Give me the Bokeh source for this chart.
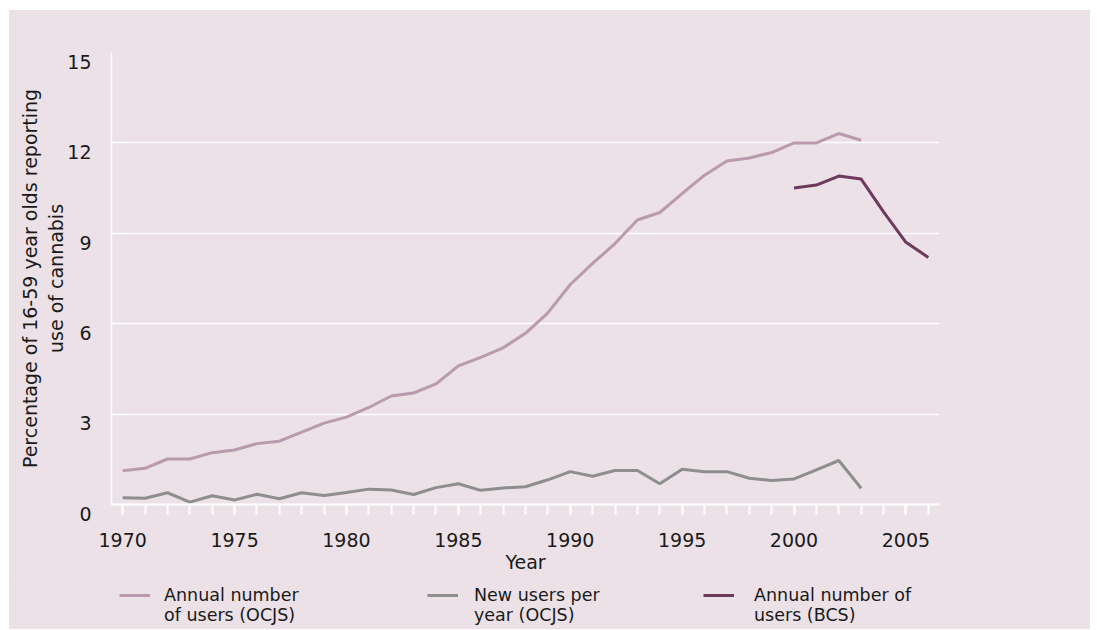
from bokeh.plotting import figure
from bokeh.layouts import column
from bokeh.models import (FixedTicker, Legend, LegendItem, Range1d)
from bokeh.embed import file_html
from bokeh.resources import INLINE

# ---- data ----
years_ocjs = list(range(1970, 2004))
annual_ocjs = [1.12, 1.2, 1.51, 1.51, 1.72, 1.81, 2.02, 2.1, 2.4, 2.7,
               2.9, 3.22, 3.6, 3.7, 4.0, 4.6, 4.88, 5.2, 5.68, 6.36,
               7.3, 8.0, 8.66, 9.44, 9.69, 10.32, 10.93, 11.4, 11.5, 11.68,
               12.0, 12.0, 12.31, 12.09]
new_ocjs = [0.22, 0.21, 0.39, 0.08, 0.29, 0.15, 0.34, 0.19, 0.39, 0.3,
            0.4, 0.51, 0.48, 0.33, 0.56, 0.69, 0.47, 0.55, 0.59, 0.82,
            1.09, 0.94, 1.13, 1.13, 0.69, 1.17, 1.09, 1.09, 0.87, 0.8,
            0.85, 1.15, 1.46, 0.54]
years_bcs = list(range(2000, 2007))
annual_bcs = [10.5, 10.6, 10.9, 10.8, 9.71, 8.7, 8.2]

y_ticks = [0, 3, 6, 9, 12, 15]
y_tick_labels = ["0", "3", "6", "9", "12", "15"]
x_major_ticks = [1970, 1975, 1980, 1985, 1990, 1995, 2000, 2005]
x_minor_ticks = list(range(1970, 2007))

series_labels = ["Annual number\nof users (OCJS)",
                 "New users per\nyear (OCJS)",
                 "Annual number of\nusers (BCS)"]

# ---- style ----
BG = "#ebe1e7"
C_LIGHT = "#b99bad"
C_GRAY = "#8e8e8e"
C_DARK = "#6d3a5d"
COLORS = [C_LIGHT, C_GRAY, C_DARK]
FONT = "DejaVu Sans"
TXT = "#1a1a1a"

p = figure(frame_width=828, frame_height=452,
           x_range=Range1d(1969.5, 2006.5), y_range=Range1d(0, 15),
           output_backend="svg", toolbar_location=None,
           min_border_left=102, min_border_right=151,
           min_border_top=42, min_border_bottom=76,
           background_fill_color=BG, border_fill_color=BG,
           outline_line_color=None)

p.line(years_ocjs, annual_ocjs, line_color=C_LIGHT, line_width=3)
p.line(years_ocjs, new_ocjs, line_color=C_GRAY, line_width=3)
p.line(years_bcs, annual_bcs, line_color=C_DARK, line_width=3)

# grid
p.xgrid.grid_line_color = None
p.ygrid.grid_line_color = "white"
p.ygrid.grid_line_width = 1.5

# x axis
xa = p.xaxis[0]
xa.ticker = FixedTicker(ticks=x_major_ticks, minor_ticks=x_minor_ticks)
xa.axis_line_color = "white"
xa.axis_line_width = 2
xa.major_tick_line_color = "white"
xa.major_tick_line_width = 2
xa.major_tick_in = 0
xa.major_tick_out = 10
xa.minor_tick_line_color = "white"
xa.minor_tick_line_width = 2
xa.minor_tick_in = 0
xa.minor_tick_out = 10
xa.major_label_text_font = FONT
xa.major_label_text_font_size = "19px"
xa.major_label_text_color = TXT
xa.major_label_standoff = 18
xa.axis_label = "Year"
xa.axis_label_text_font = FONT
xa.axis_label_text_font_size = "19px"
xa.axis_label_text_font_style = "normal"
xa.axis_label_text_color = TXT
xa.axis_label_standoff = 1

# y axis (labels sit a little below their grid lines: empty first line)
ya = p.yaxis[0]
ya.ticker = FixedTicker(ticks=y_ticks)
ya.axis_line_color = "white"
ya.axis_line_width = 1.5
ya.major_tick_line_color = None
ya.minor_tick_line_color = None
ya.major_tick_out = 0
ya.major_tick_in = 0
ya.major_label_overrides = {t: "\n" + s for t, s in zip(y_ticks, y_tick_labels)}
ya.major_label_text_font = FONT
ya.major_label_text_font_size = "19px"
ya.major_label_text_line_height = 0.85
ya.major_label_text_color = TXT
ya.major_label_standoff = 20
ya.axis_label = "Percentage of 16-59 year olds reporting\nuse of cannabis"
ya.axis_label_text_font = FONT
ya.axis_label_text_font_size = "19px"
ya.axis_label_text_font_style = "normal"
ya.axis_label_text_color = TXT
ya.axis_label_standoff = -3

# ---- legend strip (its frame lines up with the chart frame) ----
leg = figure(width=1081, height=49, x_range=Range1d(0, 1), y_range=Range1d(0, 1),
             output_backend="svg", toolbar_location=None, min_border=0,
             background_fill_color=None, border_fill_color=BG,
             outline_line_color=None)
leg.axis.visible = False
leg.grid.visible = False

# same series, outside this strip's ranges: only their legend keys show
leg_r = [leg.line(years_ocjs, annual_ocjs, line_color=C_LIGHT, line_width=3),
         leg.line(years_ocjs, new_ocjs, line_color=C_GRAY, line_width=3),
         leg.line(years_bcs, annual_bcs, line_color=C_DARK, line_width=3)]

leg_x = [8, 316, 592]
leg_standoff = [14, 16, 20]
for i in range(3):
    # leading empty line keeps the key level with the first text line
    lg = Legend(items=[LegendItem(label="\n" + series_labels[i], renderers=[leg_r[i]])],
                location=(leg_x[i], 4),
                background_fill_alpha=0, border_line_color=None,
                padding=0, margin=0,
                glyph_width=31, glyph_height=20, label_standoff=leg_standoff[i],
                label_text_font=FONT, label_text_font_size="17.5px",
                label_text_color=TXT)
    leg.add_layout(lg, "center")

layout = column(p, leg, spacing=0)
layout.margin = (10, 0, 0, 9)
layout.styles = {"background-color": BG}
open("out.html", "w").write(file_html(layout, INLINE))
